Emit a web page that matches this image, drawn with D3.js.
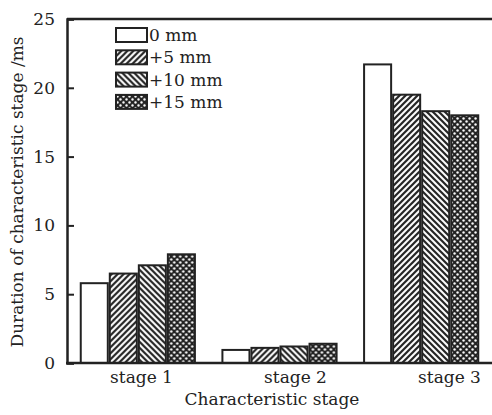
<!DOCTYPE html>
<html>
<head>
<meta charset="utf-8">
<script src="https://cdn.jsdelivr.net/npm/d3@7"></script>
<style>
  body { margin: 0; background: #fff; }
  svg text { font-family: "DejaVu Serif", serif; fill: #222; }
</style>
</head>
<body>
<div id="chart"></div>
<script>
'use strict';

var stages = ['stage 1', 'stage 2', 'stage 3'];
var series = ['0 mm', '+5 mm', '+10 mm', '+15 mm'];
var values0 = [5.8, 0.95, 21.7];
var values5 = [6.5, 1.1, 19.5];
var values10 = [7.1, 1.2, 18.3];
var values15 = [7.9, 1.4, 18.0];
var yTicks = [0, 5, 10, 15, 20, 25];

var allValues = [values0, values5, values10, values15];

var width = 492;
var height = 415;
var margin = { top: 19, right: 0, bottom: 52, left: 67 };
var ink = '#222';
var fontSize = 17;

var svg = d3.select('#chart').append('svg')
  .attr('width', width)
  .attr('height', height);

// Fill patterns for the bars.
var defs = svg.append('defs');

var p5 = defs.append('pattern')
  .attr('id', 'fwd')
  .attr('patternUnits', 'userSpaceOnUse')
  .attr('width', 6).attr('height', 6);
p5.append('rect').attr('width', 6).attr('height', 6).attr('fill', '#fff');
p5.append('path')
  .attr('d', 'M-1,7 L7,-1 M-4,4 L4,-4 M2,10 L10,2')
  .attr('stroke', ink).attr('stroke-width', 2.2);

var p10 = defs.append('pattern')
  .attr('id', 'back')
  .attr('patternUnits', 'userSpaceOnUse')
  .attr('width', 6).attr('height', 6);
p10.append('rect').attr('width', 6).attr('height', 6).attr('fill', '#fff');
p10.append('path')
  .attr('d', 'M-1,-1 L7,7 M-4,2 L4,10 M2,-4 L10,4')
  .attr('stroke', ink).attr('stroke-width', 2.2);

var p15 = defs.append('pattern')
  .attr('id', 'dots')
  .attr('patternUnits', 'userSpaceOnUse')
  .attr('width', 6).attr('height', 6);
p15.append('rect').attr('width', 6).attr('height', 6).attr('fill', ink);
p15.append('circle').attr('cx', 1.5).attr('cy', 1.5).attr('r', 1.2).attr('fill', '#fff');
p15.append('circle').attr('cx', 4.5).attr('cy', 4.5).attr('r', 1.2).attr('fill', '#fff');

var fills = ['#fff', 'url(#fwd)', 'url(#back)', 'url(#dots)'];

var x0 = d3.scaleBand()
  .domain(stages)
  .range([margin.left, width - margin.right])
  .paddingInner(0.18)
  .paddingOuter(0.09);

var x1 = d3.scaleBand()
  .domain(series)
  .range([0, x0.bandwidth()]);

var y = d3.scaleLinear()
  .domain([0, 25])
  .range([height - margin.bottom, margin.top]);

// Label positions sit a little right of the group centres in the original.
var xLabel = d3.scalePoint()
  .domain(stages)
  .range([141, 449]);

// Bars.
var groups = svg.append('g').selectAll('g')
  .data(stages)
  .join('g')
  .attr('transform', function(d) { return 'translate(' + x0(d) + ',0)'; });

groups.selectAll('rect')
  .data(function(d, i) {
    return series.map(function(s, j) { return { key: s, idx: j, value: allValues[j][i] }; });
  })
  .join('rect')
  .attr('x', function(d) { return x1(d.key) + 1; })
  .attr('y', function(d) { return y(d.value); })
  .attr('width', x1.bandwidth() - 2)
  .attr('height', function(d) { return y(0) - y(d.value); })
  .attr('fill', function(d) { return fills[d.idx]; })
  .attr('stroke', ink)
  .attr('stroke-width', 2);

// Top frame line.
svg.append('line')
  .attr('x1', margin.left).attr('x2', width)
  .attr('y1', y(25)).attr('y2', y(25))
  .attr('stroke', ink).attr('stroke-width', 2.5);

// Y axis.
var yAxis = svg.append('g')
  .attr('transform', 'translate(' + margin.left + ',0)')
  .call(d3.axisLeft(y).tickValues(yTicks).tickSize(-7).tickPadding(12));
yAxis.select('.domain').attr('stroke', ink).attr('stroke-width', 2.5);
yAxis.selectAll('.tick line').attr('stroke', ink).attr('stroke-width', 2);
yAxis.selectAll('.tick text')
  .attr('font-size', fontSize)
  .style('font-family', '"DejaVu Serif", serif')
  .attr('fill', ink);

// X axis.
var xAxis = svg.append('g')
  .attr('transform', 'translate(0,' + y(0) + ')')
  .call(d3.axisBottom(xLabel).tickSize(0).tickPadding(8));
xAxis.select('.domain').remove();
xAxis.selectAll('.tick text')
  .attr('font-size', fontSize)
  .style('font-family', '"DejaVu Serif", serif')
  .attr('fill', ink);

svg.append('line')
  .attr('x1', margin.left - 1).attr('x2', width)
  .attr('y1', y(0)).attr('y2', y(0))
  .attr('stroke', ink).attr('stroke-width', 2.5);

// Axis titles.
svg.append('text')
  .attr('x', 272)
  .attr('y', 405)
  .attr('text-anchor', 'middle')
  .attr('font-size', fontSize)
  .text('Characteristic stage');

svg.append('text')
  .attr('transform', 'translate(23,192) rotate(-90)')
  .attr('text-anchor', 'middle')
  .attr('font-size', fontSize)
  .text('Duration of characteristic stage /ms');

// Legend.
var legend = svg.append('g')
  .attr('transform', 'translate(116,28)');

var item = legend.selectAll('g')
  .data(series)
  .join('g')
  .attr('transform', function(d, i) { return 'translate(0,' + (i * 22.3) + ')'; });

item.append('rect')
  .attr('width', 31)
  .attr('height', 14)
  .attr('fill', function(d, i) { return fills[i]; })
  .attr('stroke', ink)
  .attr('stroke-width', 2);

item.append('text')
  .attr('x', 33)
  .attr('y', 13)
  .attr('font-size', fontSize)
  .text(function(d) { return d; });
</script>
</body>
</html>
